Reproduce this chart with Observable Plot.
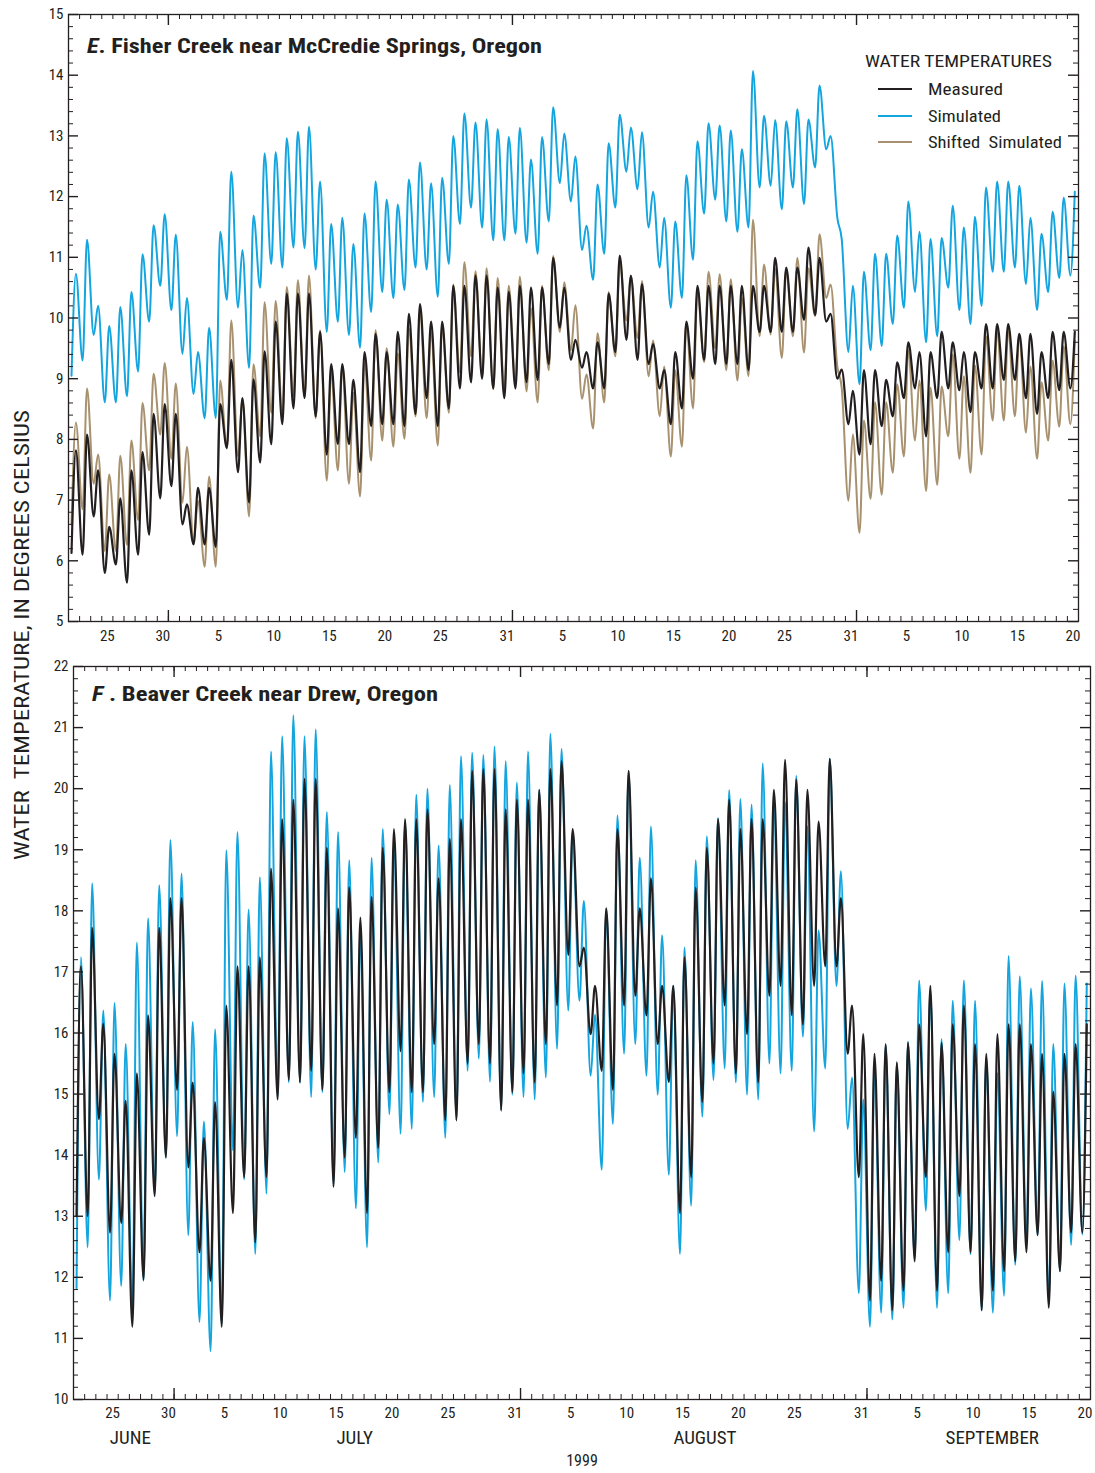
<!DOCTYPE html>
<html><head><meta charset="utf-8">
<script src="https://cdn.jsdelivr.net/npm/d3@7"></script>
<script src="https://cdn.jsdelivr.net/npm/@observablehq/plot@0.6"></script>
<style>
body{margin:0;background:#fff;}
#wrap{position:relative;width:1095px;height:1473px;overflow:hidden;font-family:"Roboto Condensed","Liberation Sans Narrow","Arial Narrow","DejaVu Sans Condensed",sans-serif;color:#231f20;}
#wrap svg{position:absolute;left:0;overflow:visible;}
.abs{position:absolute;white-space:pre;line-height:1;}
</style></head><body><div id="wrap"></div>
<script>
// ---------- data (daily morning minimum / afternoon maximum) ----------
const startDay = "1999-06-22", endDay = "1999-09-21";

// E. Fisher Creek near McCredie Springs
const fisherMeasuredHi = [7.82,8.08,7.49,6.56,7.03,7.49,7.79,8.42,8.58,
 8.42,6.93,7.2,7.2,8.58,9.31,8.68,8.99,9.45,9.94,10.4,10.4,10.4,9.77,9.24,9.24,8.98,9.44,9.74,9.44,9.77,10.07,10.23,9.94,9.94,10.53,10.53,10.7,10.7,10.5,10.43,
 10.53,10.5,10.5,10.99,10.5,9.64,9.44,9.6,10.4,11.03,10.7,10.56,9.57,9.14,9.44,9.94,10.53,10.53,10.53,10.53,10.53,10.53,10.53,10.99,10.83,10.83,11.16,10.99,10.07,9.15,8.8,
 9.14,9.14,8.98,9.27,9.6,9.44,9.44,9.77,9.6,9.44,9.44,9.9,9.9,9.9,9.74,9.74,9.44,9.77,9.77,9.77];
const fisherMeasuredLo = [6.13,6.1,6.73,5.8,5.94,5.64,6.1,6.43,7.03,
 7.23,6.6,6.27,6.27,6.23,7.86,7.46,6.96,7.62,7.92,8.25,8.51,8.68,8.38,7.75,7.92,7.92,7.46,8.22,8.25,8.25,8.22,8.42,8.68,8.22,8.51,8.84,8.94,9.0,8.84,8.68,
 8.84,8.94,8.98,9.24,9.84,9.31,9.18,8.84,8.84,9.44,9.64,9.31,9.24,8.84,8.25,8.51,9.0,9.31,9.24,9.24,9.24,9.14,9.77,9.77,9.77,9.77,9.97,10.05,9.94,9.0,8.25,
 7.75,7.92,8.22,8.38,8.68,8.84,8.05,8.68,8.84,8.81,8.45,8.84,8.84,8.98,8.98,8.68,8.42,8.68,8.81,8.84];
const fisherSimulatedHi = [10.73,11.29,10.2,9.87,10.18,10.43,11.05,11.53,11.71,
 11.37,10.33,9.44,9.84,11.42,12.41,11.12,11.69,12.71,12.73,12.96,13.07,13.15,12.25,11.55,11.65,11.22,11.72,12.25,11.95,11.87,12.28,12.56,12.22,12.31,13.0,13.37,13.22,13.27,13.11,12.98,
 13.13,12.61,12.98,13.47,13.04,12.66,11.52,12.2,12.88,13.35,13.14,13.06,12.08,11.65,11.59,12.35,12.91,13.21,13.17,13.09,12.78,14.07,13.33,13.26,13.24,13.44,13.27,13.83,13.0,11.3,10.53,
 10.76,11.06,11.06,11.36,11.92,11.42,11.3,11.32,11.85,11.49,11.67,12.15,12.25,12.25,12.18,11.65,11.39,11.75,11.98,12.08];
const fisherSimulatedLo = [9.05,9.3,9.72,8.61,8.61,8.71,9.12,9.94,10.53,
 10.13,9.41,8.75,8.35,8.35,10.3,10.17,9.18,10.5,10.89,10.83,11.16,11.15,10.8,9.77,9.94,9.72,9.51,10.1,10.43,10.33,10.46,10.83,10.8,10.35,10.89,11.55,11.82,11.49,11.28,11.28,
 11.39,11.24,11.06,11.59,12.22,11.92,11.12,10.63,11.06,11.82,12.41,12.12,11.49,10.83,10.17,10.33,10.96,11.72,11.95,11.59,11.42,11.49,12.15,12.18,11.79,12.15,11.88,12.48,12.78,11.65,9.44,
 8.91,9.47,9.54,9.9,10.17,10.43,9.6,9.7,10.5,10.13,9.9,10.2,10.76,10.76,10.83,10.56,10.13,10.43,10.66,10.7];
const fisherShiftedHi = [8.28,8.84,7.75,7.42,7.73,7.98,8.6,9.08,9.26,
 8.92,7.88,6.99,7.39,8.97,9.96,8.67,9.24,10.26,10.28,10.51,10.62,10.7,9.8,9.1,9.2,8.77,9.27,9.8,9.5,9.42,9.83,10.11,9.77,9.86,10.55,10.92,10.77,10.82,10.66,10.53,
 10.68,10.16,10.53,11.02,10.59,10.21,9.07,9.75,10.43,10.9,10.69,10.61,9.63,9.2,9.14,9.9,10.46,10.76,10.72,10.64,10.33,11.62,10.88,10.81,10.79,10.99,10.82,11.38,10.55,8.85,8.08,
 8.31,8.61,8.61,8.91,9.47,8.97,8.85,8.87,9.4,9.04,9.22,9.7,9.8,9.8,9.73,9.2,8.94,9.3,9.53,9.63];
const fisherShiftedLo = [6.6,6.85,7.27,6.16,6.16,6.26,6.67,7.49,8.08,
 7.68,6.96,6.3,5.9,5.9,7.85,7.72,6.73,8.05,8.44,8.38,8.71,8.7,8.35,7.32,7.49,7.27,7.06,7.65,7.98,7.88,8.01,8.38,8.35,7.9,8.44,9.1,9.37,9.04,8.83,8.83,
 8.94,8.79,8.61,9.14,9.77,9.47,8.67,8.18,8.61,9.37,9.96,9.67,9.04,8.38,7.72,7.88,8.51,9.27,9.5,9.14,8.97,9.04,9.7,9.73,9.34,9.7,9.43,10.03,10.33,9.2,6.99,
 6.46,7.02,7.09,7.45,7.72,7.98,7.15,7.25,8.05,7.68,7.45,7.75,8.31,8.31,8.38,8.11,7.68,7.98,8.21,8.25];

// F. Beaver Creek near Drew
const beaverMeasuredHi = [17.09,17.72,16.15,15.66,14.89,15.34,16.29,17.72,18.21,
 18.21,15.19,14.28,14.87,16.45,17.09,17.09,17.24,18.69,19.5,19.82,20.16,20.16,19.03,18.04,18.39,17.89,18.23,19.03,19.34,19.5,19.5,19.66,18.53,19.18,19.5,20.29,20.32,20.32,19.66,19.82,
 19.82,19.98,20.32,20.45,19.34,17.4,16.77,18.04,19.34,20.29,18.04,18.53,16.77,16.77,17.24,18.38,19.03,19.5,19.82,19.34,19.5,19.5,19.98,20.47,20.15,19.98,19.46,20.49,18.21,16.45,15.98,
 15.66,15.82,15.52,15.84,16.14,16.77,15.84,16.14,16.45,15.82,15.66,15.98,16.14,16.14,15.82,15.66,15.04,15.66,15.82,16.14];
const beaverMeasuredLo = [13.0,13.0,14.59,12.73,12.89,11.19,11.96,13.33,13.96,
 15.07,13.8,12.41,11.94,11.19,13.05,13.64,12.57,13.64,14.91,15.23,15.19,15.38,15.07,13.48,13.96,14.28,13.05,14.12,15.03,15.7,15.03,15.03,15.82,14.57,14.57,15.5,15.82,15.5,14.73,15.03,
 15.34,15.19,15.82,16.45,17.28,17.09,15.98,15.38,15.07,16.45,16.61,16.29,15.82,15.2,13.05,13.64,14.87,15.5,16.45,15.34,15.98,15.19,16.61,16.77,16.29,16.14,16.77,17.09,17.09,15.66,13.64,
 11.62,11.94,11.46,11.78,12.26,13.64,11.78,12.41,13.33,12.41,11.46,11.78,12.1,12.26,12.41,12.69,11.5,12.1,12.73,12.73];
const beaverSimulatedHi = [17.24,18.45,16.37,16.49,15.82,17.48,17.88,18.42,19.16,
 18.61,16.18,14.55,16.06,18.99,19.29,18.02,18.55,20.61,20.86,21.2,20.86,20.97,19.62,19.29,18.83,17.6,18.87,19.34,19.14,19.46,19.9,20.0,19.07,20.06,20.53,20.59,20.55,20.69,20.45,20.1,
 20.61,19.98,20.9,20.65,19.3,18.16,16.3,18.04,19.56,20.29,18.87,19.38,17.6,16.77,17.4,18.83,19.22,19.52,19.98,19.83,19.74,20.41,19.78,19.78,20.21,19.38,17.68,20.49,18.65,15.27,14.91,
 15.42,15.8,15.5,15.86,16.86,16.7,15.9,16.53,16.86,16.53,15.6,15.34,17.26,16.93,16.73,16.85,15.82,16.81,16.94,16.81];
const beaverSimulatedLo = [11.82,12.49,13.6,11.62,11.86,11.5,11.94,13.37,13.96,
 14.31,12.69,11.27,10.79,11.23,14.08,13.6,12.38,13.37,14.95,15.19,15.19,14.95,15.03,13.52,13.72,13.13,12.49,13.88,14.67,14.35,14.43,14.87,14.95,14.28,14.59,15.38,15.58,15.2,14.75,14.99,
 14.95,14.91,15.27,15.74,16.37,16.53,15.3,13.76,14.51,15.66,15.82,15.3,14.99,13.68,12.38,13.17,14.63,15.23,15.42,15.19,14.99,14.91,15.5,15.34,15.38,15.94,14.39,15.42,16.77,14.43,11.74,
 11.19,11.42,11.31,11.5,12.3,13.09,11.5,11.74,12.61,12.38,11.46,11.42,11.7,12.2,12.57,12.69,11.6,12.1,12.53,12.7];

// axis labels
const dayLabelDates = ["1999-06-25","1999-06-30","1999-07-05","1999-07-10","1999-07-15","1999-07-20","1999-07-25","1999-07-31",
 "1999-08-05","1999-08-10","1999-08-15","1999-08-20","1999-08-25","1999-08-31","1999-09-05","1999-09-10","1999-09-15","1999-09-20"];
const monthNames = ["JUNE","JULY","AUGUST","SEPTEMBER"];
const monthLabelAnchors = ["1999-06-27T02:00Z","1999-07-17T04:00Z","1999-08-17T12:00Z","1999-09-12T05:00Z"];
const yearLabel = "1999";
const legendTitle = "WATER TEMPERATURES";
const seriesNames = ["Measured","Simulated","Shifted  Simulated"];

// ---------- drawing ----------
const INK = "#231f20", BLUE = "#14a5df", TAN = "#a8916e";
const wrap = document.getElementById("wrap");
const FONT = getComputedStyle(wrap).fontFamily;
const LO_HOUR = 6.5, HI_HOUR = 16;
const t0 = new Date(startDay + "T00:00Z"), t1 = new Date(endDay + "T00:00Z");
const DAY = 864e5;

function diurnal(hi, lo) {
  const pts = [];
  hi.forEach((h, i) => {
    pts.push({t: new Date(t0.getTime() + i * DAY + LO_HOUR * 36e5), v: lo[i]});
    pts.push({t: new Date(t0.getTime() + i * DAY + HI_HOUR * 36e5), v: h});
  });
  return pts;
}

const dayTicks = d3.utcDay.range(t0, t1).slice(1);
const monthTicks = d3.utcMonth.range(d3.utcDay.offset(t0, 1), t1);
const labelDates = dayLabelDates.map(s => new Date(s + "T12:00Z"));

function panel({width, height, mt, mb, ml, mr, y0, y1, lines, labelPad, extra = []}) {
  const fw = width - ml - mr, fh = height - mt - mb;
  const yMajor = d3.range(y0, y1 + 1);
  const yMinor = d3.range(y0 * 5 + 1, y1 * 5).filter(k => k % 5 !== 0).map(k => k / 5);
  return Plot.plot({
    width, height, marginTop: mt, marginBottom: mb, marginLeft: ml, marginRight: mr,
    x: {type: "utc", domain: [t0, t1]},
    y: {domain: [y0, y1]},
    style: {fontFamily: FONT, fontSize: "15px", color: INK, background: "transparent"},
    marks: [
      ...lines,
      Plot.frame({stroke: INK, strokeWidth: 1.3}),
      Plot.tickX(dayTicks, {x: d => d, insetTop: fh - 5, stroke: INK}),
      Plot.tickX(dayTicks, {x: d => d, insetBottom: fh - 5, stroke: INK}),
      Plot.tickX(monthTicks, {x: d => d, insetTop: fh - 11, stroke: INK, strokeWidth: 1.4}),
      Plot.tickX(monthTicks, {x: d => d, insetBottom: fh - 11, stroke: INK, strokeWidth: 1.4}),
      Plot.tickY(yMinor, {y: d => d, insetRight: fw - 5, stroke: INK}),
      Plot.tickY(yMinor, {y: d => d, insetLeft: fw - 5, stroke: INK}),
      Plot.tickY(yMajor, {y: d => d, insetRight: fw - 10, stroke: INK, strokeWidth: 1.4}),
      Plot.tickY(yMajor, {y: d => d, insetLeft: fw - 10, stroke: INK, strokeWidth: 1.4}),
      Plot.axisX(labelDates, {tickSize: 0, tickPadding: labelPad, tickFormat: d => String(d.getUTCDate()), label: null, fontSize: 15}),
      Plot.axisY(yMajor, {tickSize: 0, tickPadding: 5, tickFormat: d => String(d), label: null, fontSize: 15}),
      ...extra
    ]
  });
}

const lineOpts = (color, w) => ({x: "t", y: "v", stroke: color, strokeWidth: w, curve: "monotone-x", strokeLinejoin: "round"});

const topChart = panel({
  width: 1095, height: 650, mt: 14, mb: 29, ml: 68, mr: 17, y0: 5, y1: 15, labelPad: 9,
  lines: [
    Plot.lineY(diurnal(fisherSimulatedHi, fisherSimulatedLo), lineOpts(BLUE, 2)),
    Plot.lineY(diurnal(fisherShiftedHi, fisherShiftedLo), lineOpts(TAN, 2)),
    Plot.lineY(diurnal(fisherMeasuredHi, fisherMeasuredLo), lineOpts(INK, 2.2))
  ]
});
topChart.style.top = "0px";
wrap.appendChild(topChart);

const bottomChart = panel({
  width: 1095, height: 823, mt: 16, mb: 74, ml: 73, mr: 5, y0: 10, y1: 22, labelPad: 8,
  lines: [
    Plot.lineY(diurnal(beaverSimulatedHi, beaverSimulatedLo), lineOpts(BLUE, 2)),
    Plot.lineY(diurnal(beaverMeasuredHi, beaverMeasuredLo), lineOpts(INK, 2.2))
  ],
  extra: [
    Plot.text(monthNames, {x: (d, i) => new Date(monthLabelAnchors[i]), text: d => d, frameAnchor: "bottom", dy: 44, fontSize: 19, fill: INK}),
    Plot.text([yearLabel], {text: d => d, frameAnchor: "bottom", dy: 66, fontSize: 16, fill: INK})
  ]
});
bottomChart.style.top = "650px";
wrap.appendChild(bottomChart);

// ---------- HTML text overlays ----------
function note(html, x, y, size, opts = {}) {
  const el = document.createElement("div");
  el.className = "abs";
  el.innerHTML = html;
  el.style.fontSize = size + "px";
  if (opts.bold) el.style.fontWeight = "bold";
  wrap.appendChild(el);
  const w = el.getBoundingClientRect().width;
  const sx = opts.width ? opts.width / w : 1;
  el.style.left = x + "px";
  el.style.top = y + "px";
  el.style.transformOrigin = "0 0";
  if (opts.rotate) el.style.transform = `rotate(-90deg) scaleX(${sx}) translate(-50%,-50%)`;
  else el.style.transform = `scaleX(${sx}) translate(0,-50%)`;
  return el;
}
function swatch(x1, x2, y, color) {
  const el = document.createElement("div");
  el.style.cssText = `position:absolute;left:${x1}px;top:${y - 1}px;width:${x2 - x1}px;height:2px;background:${color}`;
  wrap.appendChild(el);
}

note("<i>E</i>. Fisher Creek near McCredie Springs, Oregon", 87, 46, 21, {bold: true, width: 455});
note("<i>F</i> . Beaver Creek near Drew, Oregon", 92, 694, 21, {bold: true, width: 346});
note(legendTitle, 865, 61, 17, {width: 187});
const legendRows = [[seriesNames[0], INK, 89], [seriesNames[1], BLUE, 116], [seriesNames[2], TAN, 142]];
const legendWidths = [75, 73, 134];
legendRows.forEach(([name, color, y], i) => {
  swatch(878, 912, y, color);
  note(name, 928, y, 17, {width: legendWidths[i]});
});
note("WATER  TEMPERATURE, IN DEGREES CELSIUS", 22, 635, 20, {rotate: true, width: 450});
</script>
</body></html>
